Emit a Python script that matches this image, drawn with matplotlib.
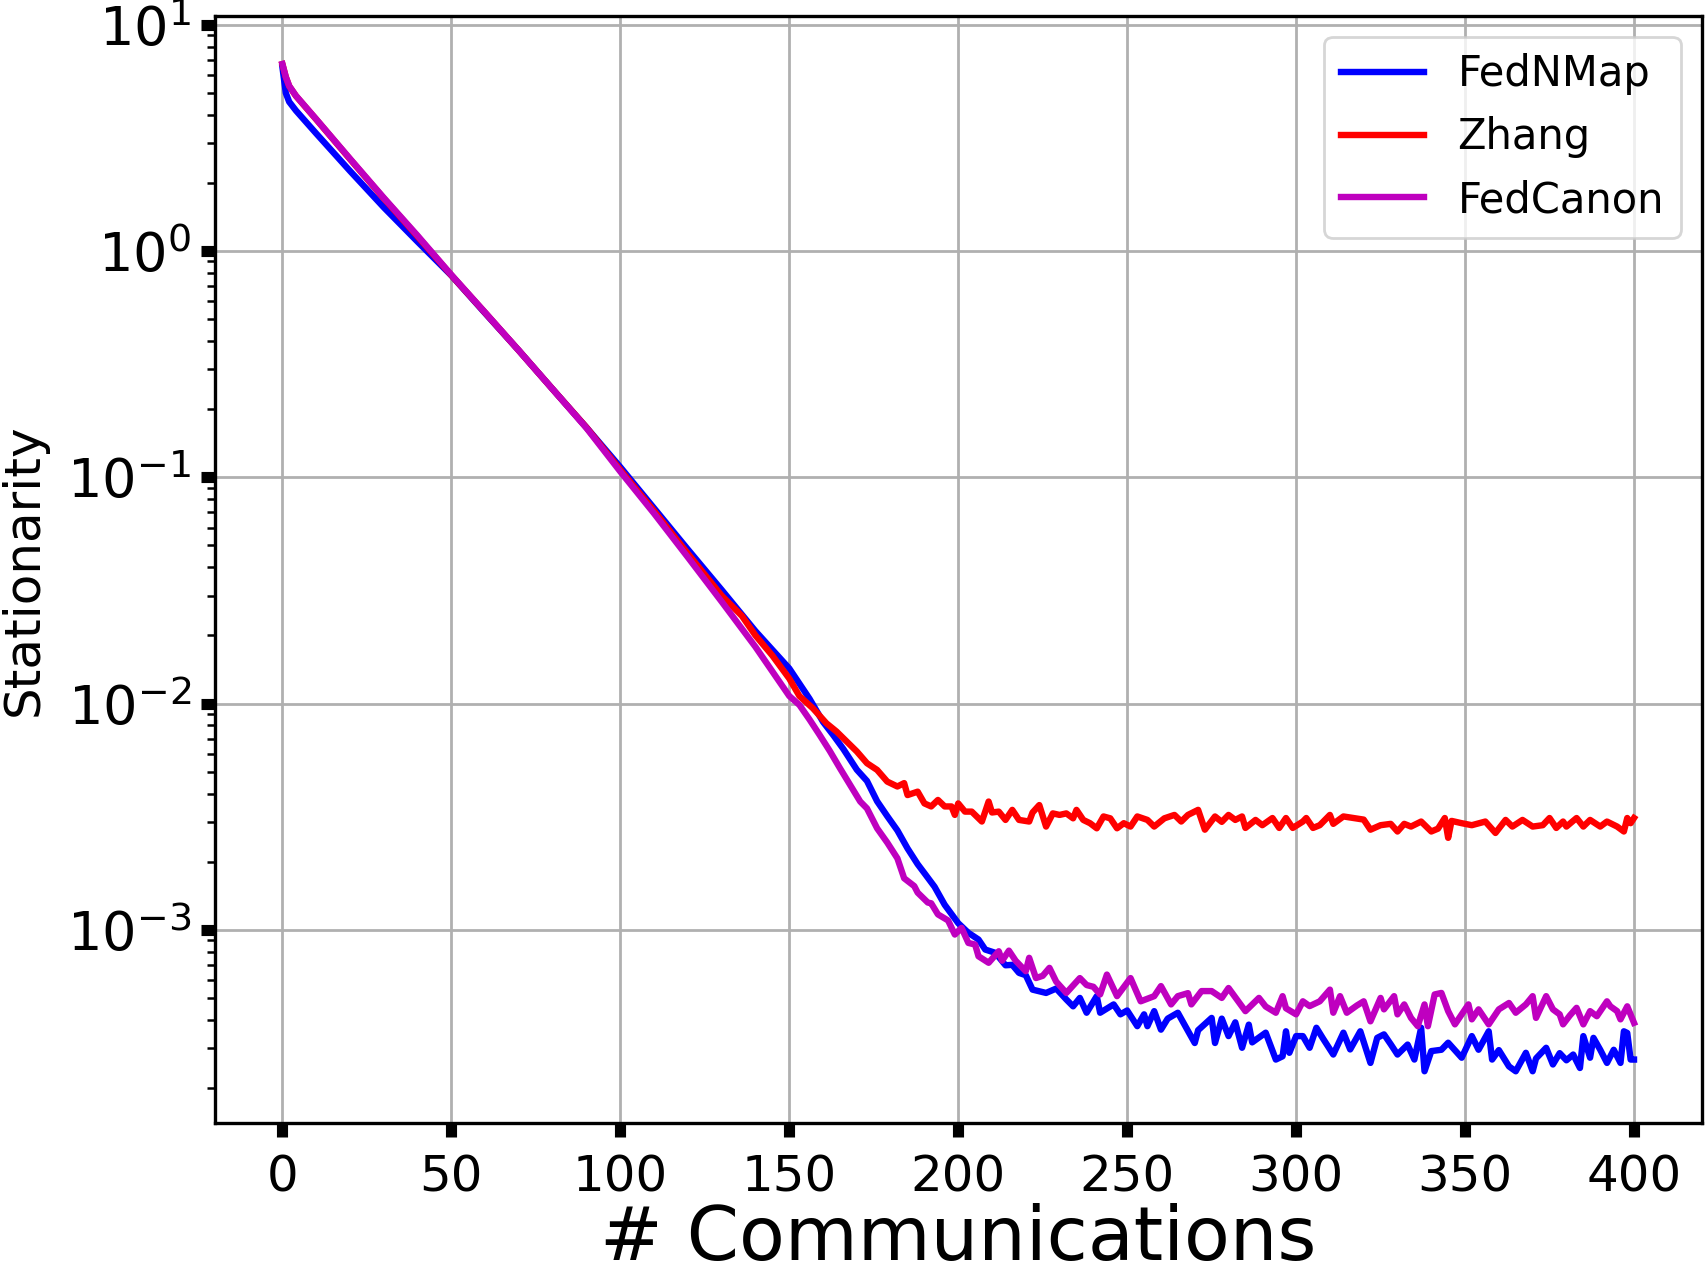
import matplotlib
matplotlib.use("Agg")
import matplotlib.pyplot as plt

# values (log-scale y)
fednmap_x = [0, 1, 2, 4, 10, 20, 30, 40, 50, 60, 70, 80, 90, 100, 110, 120, 130, 140, 150,
             156, 160, 163, 166, 170, 173, 176, 179, 182, 185, 188, 190, 193, 196, 200,
             203, 206, 208, 211, 214, 216, 218, 220, 222, 226, 229, 232, 234, 236, 238,
             241, 242, 246, 248, 250, 253, 255, 256, 258, 260, 262, 265, 267, 270, 271,
             275, 276, 278, 280, 282, 284, 286, 287, 291, 294, 296, 297, 298, 300, 302,
             304, 306, 308, 311, 314, 316, 319, 322, 324, 326, 328, 330, 333, 335, 337,
             338, 340, 343, 345, 349, 352, 354, 357, 358, 360, 363, 365, 368, 370, 371,
             374, 376, 378, 380, 382, 384, 385, 387, 388, 390, 392, 394, 396, 397, 398,
             399, 400]
fednmap_y = [6.5, 5.0, 4.57, 4.18, 3.31, 2.26, 1.56, 1.1, 0.78, 0.531, 0.363, 0.245, 0.166,
             0.111, 0.073, 0.048, 0.0318, 0.0209, 0.0143,
             0.0105, 0.0083, 0.00726, 0.0063, 0.0051, 0.00455, 0.0037, 0.00318, 0.00275,
             0.00229, 0.00195, 0.00178, 0.00155, 0.00129, 0.00107,
             0.00097, 0.000906, 0.000818, 0.000791, 0.000697, 0.0007, 0.000645, 0.00063,
             0.000544, 0.000526, 0.00055, 0.000492, 0.000459, 0.0005, 0.00043,
             0.000509, 0.00043, 0.000468, 0.000423, 0.00044, 0.000375, 0.000423, 0.000375,
             0.000437, 0.000362, 0.000405, 0.00043, 0.00038, 0.000316, 0.00036,
             0.000408, 0.000316, 0.000405, 0.000339, 0.00039, 0.000301, 0.000381, 0.000318,
             0.000351, 0.000267, 0.000276, 0.000356, 0.000286, 0.000339, 0.000339,
             0.000301, 0.000369, 0.00033, 0.000281, 0.000351, 0.000296, 0.000356, 0.000258,
             0.000333, 0.000345, 0.000312, 0.000281, 0.000311, 0.000267, 0.000369,
             0.000237, 0.000291, 0.000295, 0.000317, 0.000272, 0.000339, 0.000295, 0.000356,
             0.000267, 0.000294, 0.000249, 0.000237, 0.000286, 0.000237, 0.00027,
             0.000301, 0.000254, 0.000285, 0.000265, 0.000281, 0.000245, 0.000339, 0.000272,
             0.000333, 0.000295, 0.000258, 0.000295, 0.000258, 0.000356, 0.00035,
             0.000267, 0.000267]

zhang_x = [0, 1, 2, 4, 10, 20, 30, 40, 50, 60, 70, 80, 90, 100, 110, 120, 130, 136, 140,
           145, 150, 153, 157, 161, 164, 167, 170, 173, 176, 179, 182, 184, 185, 188, 190,
           192, 194, 196, 198, 199, 200, 202, 204, 207, 209, 210, 212, 214, 216, 218,
           221, 222, 224, 226, 228, 230, 232, 234, 235, 237, 239, 241, 243, 245, 247,
           249, 251, 253, 256, 258, 261, 264, 266, 268, 271, 273, 276, 278, 280, 282,
           284, 285, 288, 290, 293, 295, 297, 299, 302, 303, 305, 307, 310, 311, 314,
           317, 320, 322, 325, 328, 330, 332, 334, 337, 340, 342, 344, 345, 346, 349,
           352, 356, 359, 362, 364, 367, 370, 373, 375, 377, 379, 380, 383, 385, 387,
           390, 392, 395, 397, 398, 399, 400]
zhang_y = [6.7, 5.88, 5.36, 4.85, 3.82, 2.55, 1.71, 1.16, 0.782, 0.534, 0.363, 0.245, 0.166,
           0.108, 0.071, 0.046, 0.03, 0.0244, 0.02,
           0.0163, 0.0129, 0.0108, 0.00953, 0.00818, 0.00752, 0.00679, 0.00614, 0.00545,
           0.00509, 0.00452, 0.0043, 0.00445, 0.00394, 0.00408, 0.00362,
           0.00351, 0.00375, 0.00351, 0.00351, 0.00322, 0.00362, 0.00333, 0.00333, 0.00301,
           0.00369, 0.0033, 0.00333, 0.00306, 0.00339, 0.00306,
           0.00301, 0.0033, 0.00356, 0.00286, 0.00327, 0.00322, 0.00327, 0.00311, 0.00339,
           0.00306, 0.00296, 0.00281, 0.00317, 0.00311, 0.00281,
           0.00296, 0.00286, 0.00317, 0.00306, 0.00286, 0.00311, 0.00322, 0.00301, 0.00322,
           0.00339, 0.00277, 0.00317, 0.003, 0.00322, 0.00306,
           0.00317, 0.00282, 0.00306, 0.0029, 0.00312, 0.00282, 0.00312, 0.00282, 0.00301,
           0.00312, 0.00282, 0.0029, 0.00322, 0.00294, 0.00317,
           0.00312, 0.00307, 0.00277, 0.0029, 0.00294, 0.00272, 0.00294, 0.00286, 0.00301,
           0.00272, 0.0028, 0.00312, 0.00255, 0.00303, 0.00296,
           0.0029, 0.00301, 0.00268, 0.00306, 0.00286, 0.00306, 0.00286, 0.0029, 0.00312,
           0.00282, 0.00301, 0.00286, 0.00312, 0.00286, 0.00306,
           0.00286, 0.00301, 0.00286, 0.00272, 0.00312, 0.00296, 0.00312]

fedcanon_x = [0, 1, 2, 4, 10, 20, 30, 40, 50, 60, 70, 80, 90, 100, 110, 120, 130, 140, 150,
              153, 156, 159, 162, 165, 168, 171, 173, 176, 179, 182, 184, 187, 188, 191,
              192, 194, 197, 199, 201, 203, 205, 206, 209, 212, 213, 215, 217, 220, 221,
              223, 225, 227, 229, 232, 236, 238, 240, 242, 244, 247, 251, 254, 258, 260,
              263, 265, 268, 269, 272, 275, 278, 280, 285, 289, 291, 294, 296, 297, 300,
              302, 304, 307, 310, 311, 313, 315, 318, 320, 322, 325, 326, 329, 330, 332,
              334, 336, 338, 339, 341, 343, 345, 347, 349, 351, 352, 354, 357, 360, 363,
              365, 368, 370, 371, 374, 376, 378, 379, 381, 383, 385, 387, 389, 392, 393,
              395, 396, 398, 400]
fedcanon_y = [6.71, 5.89, 5.37, 4.86, 3.83, 2.56, 1.72, 1.17, 0.785, 0.535, 0.363, 0.245,
              0.165, 0.106, 0.0692, 0.0443, 0.0282, 0.0178, 0.0108,
              0.00986, 0.0085, 0.00726, 0.00617, 0.00518, 0.00437, 0.00369, 0.00344, 0.00281,
              0.00243, 0.00207, 0.00169, 0.00156, 0.00146, 0.00132,
              0.00131, 0.00117, 0.0011, 0.000953, 0.00102, 0.000875, 0.000861, 0.000764,
              0.000715, 0.000804, 0.00073, 0.000809, 0.00073, 0.000656, 0.000752,
              0.000612, 0.000626, 0.000679, 0.00059, 0.000526, 0.000612, 0.00057, 0.00056,
              0.000518, 0.000634, 0.000509, 0.000612, 0.000483, 0.000509, 0.000564,
              0.000468, 0.000509, 0.000525, 0.000468, 0.000536, 0.000536, 0.0005, 0.000553,
              0.000437, 0.0005, 0.000458, 0.00043, 0.000509, 0.00045, 0.000423,
              0.000483, 0.00046, 0.000483, 0.000544, 0.00043, 0.000509, 0.00043, 0.000463,
              0.000483, 0.000394, 0.0005, 0.000445, 0.000509, 0.000423, 0.000468,
              0.000408, 0.000375, 0.000468, 0.000375, 0.000518, 0.000526, 0.000437, 0.000382,
              0.000423, 0.000468, 0.000402, 0.000445, 0.000382, 0.000445, 0.000475,
              0.00043, 0.000468, 0.000509, 0.000408, 0.000509, 0.000445, 0.000423, 0.000382,
              0.000418, 0.000452, 0.000382, 0.000437, 0.000415, 0.000483, 0.000459,
              0.000437, 0.000402, 0.000459, 0.000388]

x_ticks = [0, 50, 100, 150, 200, 250, 300, 350, 400]

fig = plt.figure(figsize=(8.525, 6.385), dpi=200)
ax = fig.add_axes([0.126, 0.1206, 0.872, 0.867])

ax.plot(fednmap_x, fednmap_y, color="blue", lw=2.3, label="FedNMap")
ax.plot(zhang_x, zhang_y, color="red", lw=2.3, label="Zhang")
ax.plot(fedcanon_x, fedcanon_y, color="m", lw=2.3, label="FedCanon")

ax.set_yscale("log")
ax.set_xlim(-20, 420)
ax.set_ylim(1.4e-4, 10.96)
ax.set_xticks(x_ticks)
ax.grid(True, which="major", color="#b0b0b0", lw=1.0)
ax.tick_params(which="major", length=5, width=4)
ax.tick_params(axis="x", which="major", labelsize=18, pad=6)
ax.tick_params(axis="y", which="major", labelsize=19.5)
ax.tick_params(which="minor", length=3, width=0.9)
for sp in ax.spines.values():
    sp.set_linewidth(1.2)

ax.set_xlabel("# Communications", fontsize=27, labelpad=0.5)
ax.set_ylabel("Stationarity", fontsize=18, labelpad=7)
ax.legend(loc="upper right", fontsize=15)

fig.savefig("out.png", dpi=200)
